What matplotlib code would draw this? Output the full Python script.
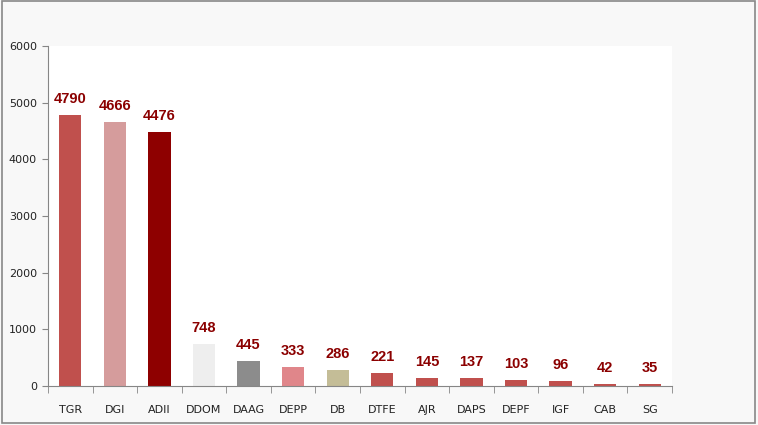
import matplotlib.pyplot as plt
from matplotlib.patches import Rectangle
import numpy as np

# Data
categories = ['TGR', 'DGI', 'ADII', 'DDOM', 'DAAG', 'DEPP', 'DB', 'DTFE',
              'AJR', 'DAPS', 'DEPF', 'IGF', 'CAB', 'SG']
values = [4790, 4666, 4476, 748, 445, 333, 286, 221, 145, 137, 103, 96, 42, 35]
colors = ['#C0504D', '#D59C9C', '#8E0000', '#EEEEEE', '#8C8C8C', '#E0868A',
          '#C4BD97'] + ['#C0504D'] * 7

fig = plt.figure(figsize=(7.58, 4.25), dpi=100, facecolor='#F8F8F8')
fig.patches.append(Rectangle((0.002, 0.004), 0.994, 0.993, transform=fig.transFigure,
                             fill=False, edgecolor='#888888', linewidth=1.2))
ax = fig.add_axes([0.0633, 0.0918, 0.8232, 0.80])
ax.set_facecolor('white')

x = np.arange(len(categories))
ax.bar(x, values, width=0.5, color=colors)

for xi, v in zip(x, values):
    ax.annotate(str(v), (xi, v), xytext=(0, 6.5), textcoords='offset points',
                ha='center', va='bottom', fontsize=10.5, fontweight='bold',
                family='Liberation Sans', color='#8B0000')

ax.set_xlim(-0.5, len(categories) - 0.5)
ax.set_ylim(0, 6000)
ax.set_yticks(range(0, 6001, 1000))
ax.set_xticks(x)
ax.set_xticklabels(categories)
ax.set_xticks(np.arange(-0.5, len(categories), 1), minor=True)
ax.tick_params(axis='x', which='major', length=0, pad=14, labelsize=8, labelcolor='#222222')
ax.tick_params(axis='x', which='minor', length=5, color='#868686', direction='out')
ax.tick_params(axis='y', length=4, color='#868686', labelsize=8, labelcolor='#222222', pad=4)

for s in ['top', 'right']:
    ax.spines[s].set_visible(False)
for s in ['left', 'bottom']:
    ax.spines[s].set_color('#868686')

fig.savefig('out.png', dpi=100, facecolor=fig.get_facecolor())
